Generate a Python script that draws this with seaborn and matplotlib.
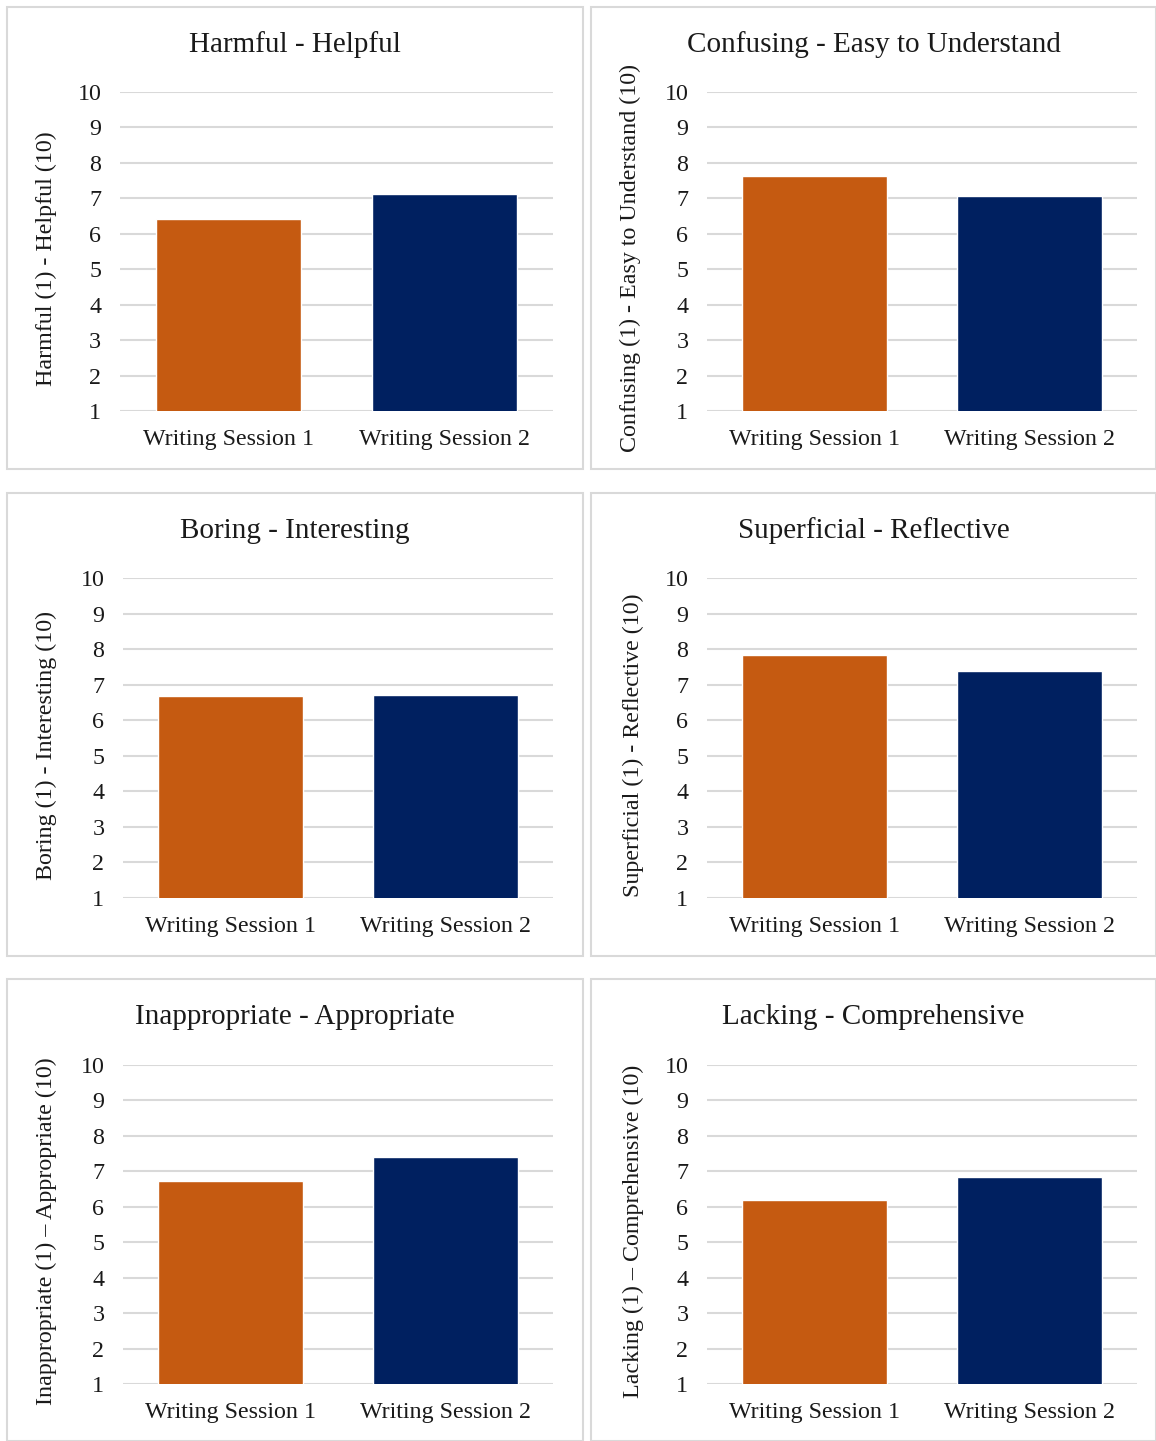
import matplotlib
matplotlib.use("Agg")
import matplotlib.pyplot as plt
from matplotlib.patches import Rectangle
import pandas as pd
import seaborn as sns

sessions = ["Writing Session 1", "Writing Session 2"]
titles = ["Harmful - Helpful", "Confusing - Easy to Understand",
          "Boring - Interesting", "Superficial - Reflective",
          "Inappropriate - Appropriate", "Lacking - Comprehensive"]
ylabels = ["Harmful (1) - Helpful (10)", "Confusing (1) - Easy to Understand (10)",
           "Boring (1) - Interesting (10)", "Superficial (1) - Reflective (10)",
           "Inappropriate (1) \u2013 Appropriate (10)", "Lacking (1) \u2013 Comprehensive (10)"]
session1 = [6.42, 7.62, 6.67, 7.83, 6.72, 6.18]
session2 = [7.11, 7.06, 6.70, 7.38, 7.40, 6.83]
yticks = list(range(1, 11))
colors = ["#C55A11", "#002060"]

sns.set_theme(style="white")
plt.rcParams["font.family"] = ["Liberation Serif", "DejaVu Serif"]

W, H = 1156, 1441
fig = plt.figure(figsize=(W / 100, H / 100), dpi=100)
fig.patch.set_facecolor("white")

# panel frames (left, top, right, bottom) in pixels
panels = [(7, 7, 583, 469), (591, 7, 1156, 469),
          (7, 493, 583, 956), (591, 493, 1156, 956),
          (7, 979, 583, 1441), (591, 979, 1156, 1441)]
# plot areas (left, top, right, bottom) in pixels
areas = [(120, 92, 553, 411), (707, 92, 1137, 411),
         (123, 578, 553, 898), (707, 578, 1137, 898),
         (123, 1065, 553, 1384), (707, 1065, 1137, 1384)]
ylabel_x = [46, 630, 46, 633, 46, 633]
text_color = "#1a1a1a"
fs = 17.3

for i in range(6):
    pl, pt, pr, pb = panels[i]
    fig.patches.append(Rectangle((pl / W, 1 - pb / H), (pr - pl) / W, (pb - pt) / H,
                                 transform=fig.transFigure, fill=False,
                                 edgecolor="#d9d9d9", linewidth=1.5, zorder=0))
    l, t, r, b = areas[i]
    ax = fig.add_axes([l / W, 1 - b / H, (r - l) / W, (b - t) / H])
    df = pd.DataFrame({"session": sessions, "score": [session1[i], session2[i]]})
    sns.barplot(data=df, x="session", y="score", hue="session", palette=colors,
                saturation=1, width=0.67, legend=False, ax=ax, zorder=3)
    ax.set_ylim(1, 10)
    ax.set_yticks(yticks)
    ax.set_xlim(-0.5, 1.5)
    ax.yaxis.grid(True, color="#d9d9d9", linewidth=1.5, zorder=0)
    ax.set_axisbelow(True)
    for s in ax.spines.values():
        s.set_visible(False)
    ax.tick_params(axis="y", length=0, pad=13.5, labelsize=fs, labelcolor=text_color)
    ax.tick_params(axis="x", length=0, pad=13, labelsize=fs, labelcolor=text_color)
    ax.set_xlabel("")
    ax.set_ylabel("")
    fig.text(ylabel_x[i] / W, 1 - ((t + b) / 2 + 7) / H, ylabels[i], rotation=90,
             ha="center", va="center", fontsize=fs, color=text_color)
    fig.text(((pl + pr) / 2) / W, 1 - (pt + 38) / H, titles[i],
             ha="center", va="center", fontsize=21, color=text_color)

fig.savefig("out.png", dpi=100, facecolor="white")
